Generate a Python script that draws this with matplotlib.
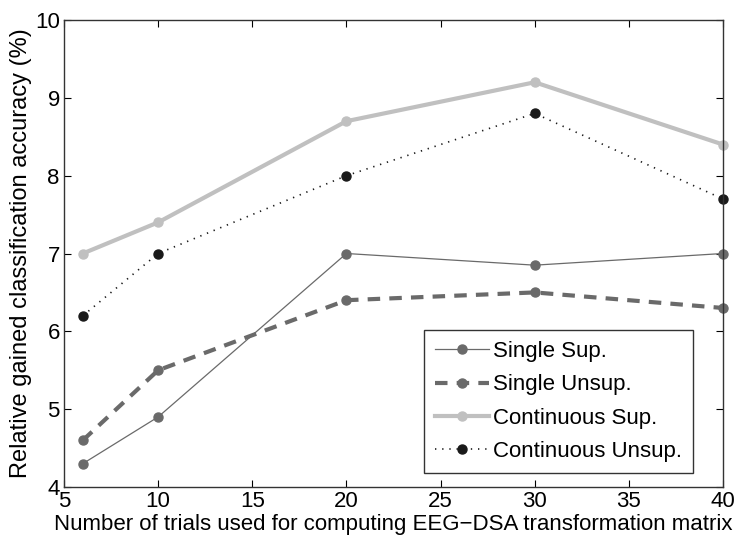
import matplotlib as mpl
mpl.use("Agg")
import matplotlib.pyplot as plt

plt.rcParams['font.family'] = ['Liberation Sans', 'DejaVu Sans']

trials = [6, 10, 20, 30, 40]
single_sup = [4.3, 4.9, 7.0, 6.85, 7.0]
single_unsup = [4.6, 5.5, 6.4, 6.5, 6.3]
cont_sup = [7.0, 7.4, 8.7, 9.2, 8.4]
cont_unsup = [6.2, 7.0, 8.0, 8.8, 7.7]

fig = plt.figure(figsize=(7.36, 5.5), dpi=100)
# axes box: x 64..723 px, y 20..487 px
ax = fig.add_axes([64 / 736, 63 / 550, 659 / 736, 467 / 550])

ax.plot(trials, single_sup, '-', color='#6a6a6a', lw=0.9, marker='o', ms=6.5,
        label='Single Sup.', clip_on=False)
ax.plot(trials, single_unsup, '--', color='#6a6a6a', lw=3, dashes=(3, 2.2), marker='o', ms=6.5,
        label='Single Unsup.', clip_on=False)
ax.plot(trials, cont_sup, '-', color='#c0c0c0', lw=3, marker='o', ms=6.5,
        label='Continuous Sup.', clip_on=False)
ax.plot(trials, cont_unsup, ':', color='#1a1a1a', lw=1.2, dashes=(0.8, 3.5), marker='o', ms=6.5,
        label='Continuous Unsup.', clip_on=False)

ax.set_xlim(5, 40)
ax.set_ylim(4, 10)
ax.set_xticks([5, 10, 15, 20, 25, 30, 35, 40])
ax.set_yticks([4, 5, 6, 7, 8, 9, 10])
ax.tick_params(direction='in', length=5, width=0.8, labelsize=16, top=True, right=True, pad=3)
for s in ax.spines.values():
    s.set_linewidth(1.0)
    s.set_color('#333333')

ax.set_xlabel('Number of trials used for computing EEG\u2212DSA transformation matrix', fontsize=16, labelpad=1)
ax.set_ylabel('Relative gained classification accuracy (%)', fontsize=17, labelpad=2)

leg = ax.legend(loc='lower right', bbox_to_anchor=(0.955, 0.03), fontsize=16, frameon=True,
                fancybox=False, edgecolor='black', handlelength=2.4, borderpad=0.5,
                labelspacing=0.55, handletextpad=0.2, borderaxespad=0)
leg.get_frame().set_linewidth(1.0)

fig.savefig('out.png', dpi=100)
